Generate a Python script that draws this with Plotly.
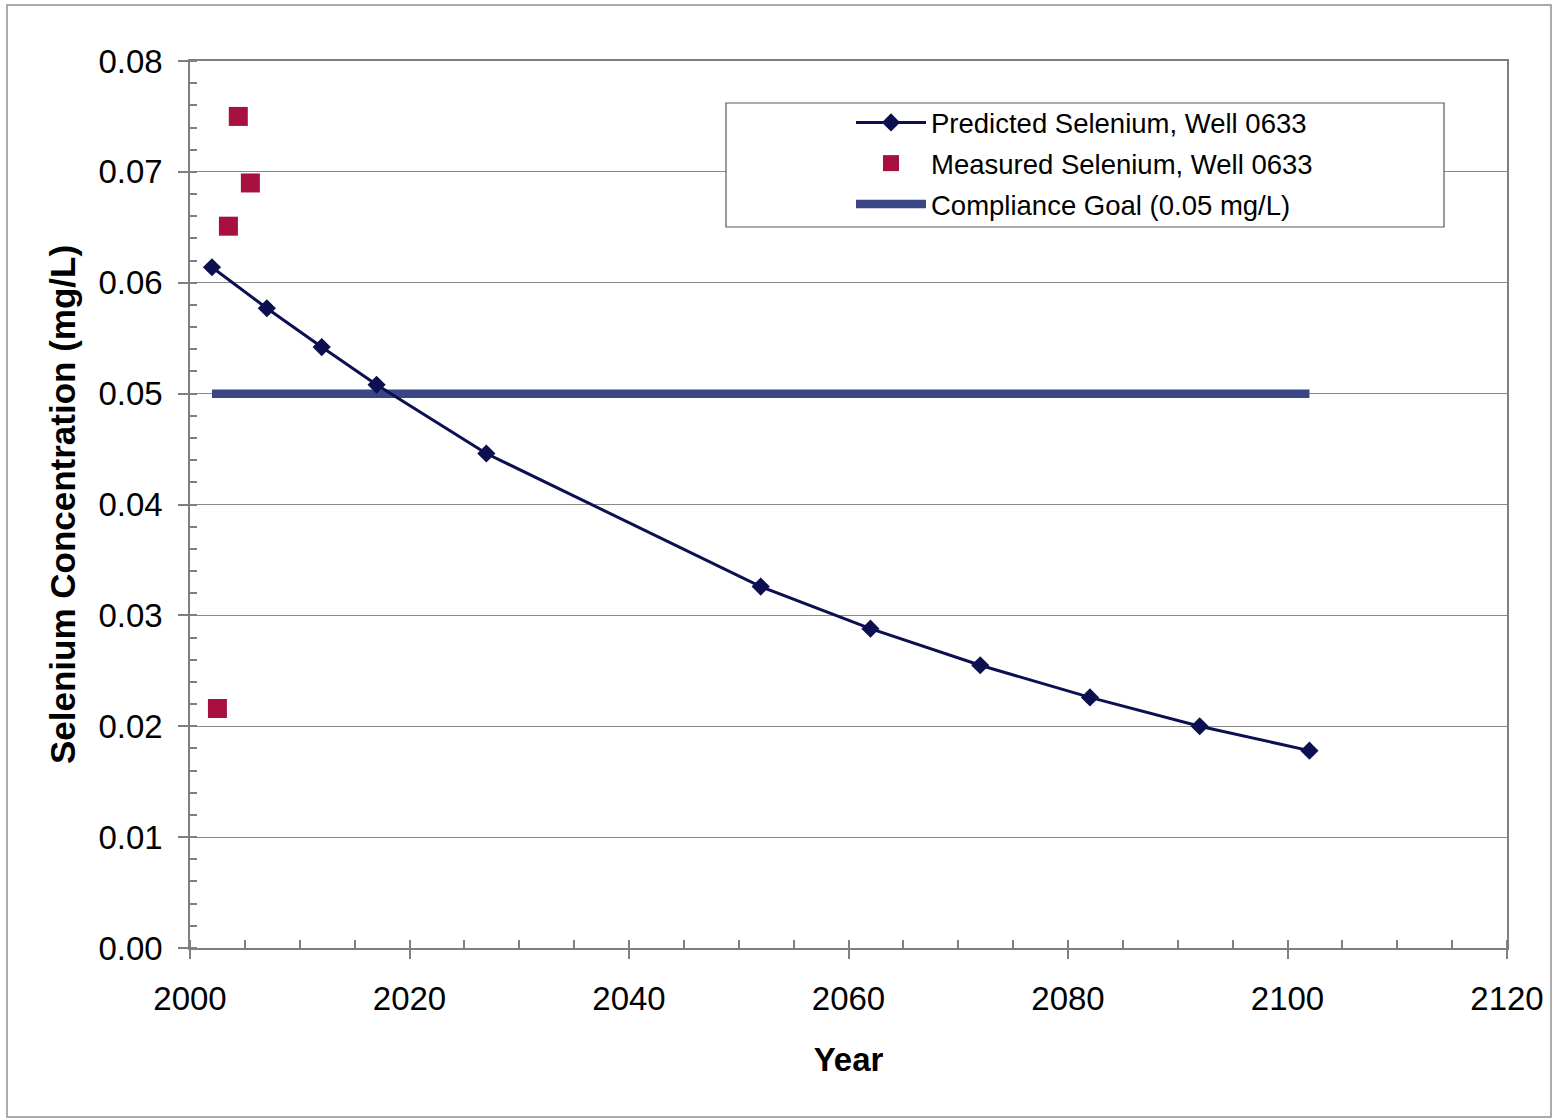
import plotly.graph_objects as go

# Predicted selenium concentration (mg/L) at Well 0633
pred_years = [2002, 2007, 2012, 2017, 2027, 2052, 2062, 2072, 2082, 2092, 2102]
pred_se = [0.0614, 0.0577, 0.0542, 0.0508, 0.0446, 0.0326, 0.0288, 0.0255, 0.0226, 0.0200, 0.0178]

# Measured selenium concentration (mg/L) at Well 0633
meas_years = [2002.5, 2003.5, 2004.4, 2005.5]
meas_se = [0.0216, 0.0651, 0.0750, 0.0690]

# Compliance goal
goal_years = [2002, 2102]
goal_se = [0.05, 0.05]

x_ticks = [2000, 2020, 2040, 2060, 2080, 2100, 2120]
y_ticks = [0.00, 0.01, 0.02, 0.03, 0.04, 0.05, 0.06, 0.07, 0.08]

W, H = 1556, 1119
L, R, T, B = 190, 49, 61, 171
PW, PH = W - L - R, H - T - B


def paper_x(px):
    return (px - L) / PW


def paper_y(py):
    return (H - B - py) / PH


FONT = "Liberation Sans, Arial, sans-serif"
NAVY = "#0c1050"
CRIMSON = "#a8103f"
GOAL = "#3a4585"
AXIS = "#7f7f7f"

fig = go.Figure()

fig.add_trace(go.Scatter(
    x=goal_years, y=goal_se, mode="lines",
    name="Compliance Goal (0.05 mg/L)",
    line=dict(color=GOAL, width=8.5),
    legendrank=3, legendgroup="c",
))
fig.add_trace(go.Scatter(
    x=pred_years, y=pred_se, mode="lines+markers",
    name="Predicted Selenium, Well 0633",
    line=dict(color=NAVY, width=3),
    marker=dict(symbol="diamond", size=14, color=NAVY),
    legendrank=1, legendgroup="a",
))
fig.add_trace(go.Scatter(
    x=meas_years, y=meas_se, mode="markers",
    name="Measured Selenium, Well 0633",
    marker=dict(symbol="square", size=19, color=CRIMSON),
    legendrank=2, legendgroup="b",
))

fig.update_layout(
    width=W, height=H,
    margin=dict(l=L, r=R, t=T, b=B, pad=0),
    paper_bgcolor="white", plot_bgcolor="white",
    font=dict(family=FONT, color="black"),
    showlegend=True,
    legend=dict(
        x=paper_x(851), y=paper_y(98), xanchor="left", yanchor="top",
        bgcolor="rgba(0,0,0,0)", borderwidth=0,
        font=dict(size=27.5, family=FONT, color="black"),
        itemwidth=70, tracegroupgap=2, traceorder="grouped",
    ),
    xaxis=dict(
        range=[2000, 2120], tickvals=x_ticks, ticktext=[str(v) for v in x_ticks],
        ticks="outside", ticklen=9, tickcolor=AXIS, tickwidth=1.5,
        showline=True, linecolor=AXIS, linewidth=1.5, mirror=True,
        showgrid=False, zeroline=False,
        tickfont=dict(size=33, family=FONT, color="black"),
        ticklabelstandoff=12,
        minor=dict(dtick=5, tick0=2000, ticks="inside", ticklen=8, tickcolor=AXIS, tickwidth=1.5),
        title=dict(text="<b>Year</b>", font=dict(size=33, family=FONT, color="black"), standoff=32),
        fixedrange=True,
    ),
    xaxis2=dict(
        overlaying="x", anchor="y", side="bottom", matches="x",
        range=[2000, 2120], tickvals=x_ticks,
        ticks="inside", ticklen=9, tickcolor=AXIS, tickwidth=1.5,
        showticklabels=False, showgrid=False, showline=False, zeroline=False,
    ),
    yaxis=dict(
        range=[0, 0.08], tickvals=y_ticks, tickformat=".2f",
        ticks="outside", ticklen=10, tickcolor=AXIS, tickwidth=1.5,
        showline=True, linecolor=AXIS, linewidth=1.5, mirror=True,
        showgrid=True, gridcolor="#8a8a8a", gridwidth=1, zeroline=False,
        tickfont=dict(size=33, family=FONT, color="black"),
        ticklabelstandoff=9,
        minor=dict(dtick=0.002, tick0=0, ticks="inside", ticklen=7, tickcolor=AXIS, tickwidth=1.5, showgrid=False),
        title=dict(text="<b>Selenium Concentration (mg/L)</b>", font=dict(size=35, family=FONT, color="black"), standoff=12),
        fixedrange=True,
    ),
    shapes=[
        # legend frame
        dict(type="rect", xref="paper", yref="paper",
             x0=paper_x(726), x1=paper_x(1444), y0=paper_y(227), y1=paper_y(103),
             fillcolor="white", line=dict(color="#5a5a5a", width=1.2), layer="above"),
        # chart frame
        dict(type="rect", xref="paper", yref="paper",
             x0=paper_x(7), x1=paper_x(1551), y0=paper_y(1117), y1=paper_y(5),
             fillcolor="rgba(0,0,0,0)", line=dict(color="#8f8f8f", width=1.5), layer="below"),
    ],
)

fig.write_html("out.html")
